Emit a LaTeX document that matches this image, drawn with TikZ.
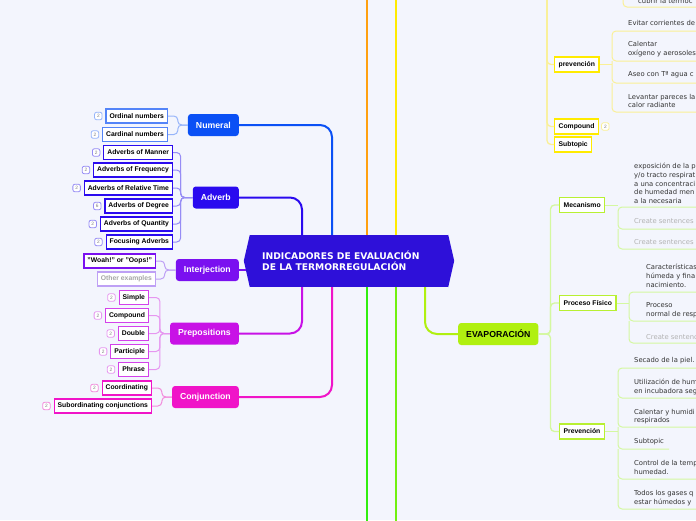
\documentclass[tikz,border=0pt]{standalone}
\usepackage{fontspec}
\setmainfont{Liberation Sans}
\newfontfamily\vfont{DejaVu Sans}
\usetikzlibrary{positioning}
\definecolor{bg}{RGB}{243,245,253}
\definecolor{cHub}{RGB}{46,16,217}
\definecolor{cNum}{RGB}{10,80,245}
\definecolor{cAdv}{RGB}{42,10,239}
\definecolor{cInt}{RGB}{122,16,240}
\definecolor{cPre}{RGB}{200,18,230}
\definecolor{cCon}{RGB}{240,20,200}
\definecolor{cOra}{RGB}{255,160,16}
\definecolor{cYel}{RGB}{255,235,0}
\definecolor{cGrA}{RGB}{48,238,16}
\definecolor{cGrB}{RGB}{112,240,16}
\definecolor{cEva}{RGB}{176,240,16}
\definecolor{bNum}{RGB}{150,180,250}
\definecolor{bAdv}{RGB}{150,140,245}
\definecolor{bInt}{RGB}{190,160,245}
\definecolor{bPre}{RGB}{230,150,240}
\definecolor{bCon}{RGB}{242,140,220}
\definecolor{lY}{RGB}{250,240,150}
\definecolor{lG}{RGB}{212,248,160}
\definecolor{sG}{RGB}{184,240,50}
\begin{document}
\begin{tikzpicture}[x=1pt, y=-1pt,
  main/.style={rounded corners=3pt, text=white, font=\bfseries\fontsize{8.7}{10}\selectfont, minimum height=22pt, inner xsep=8pt, inner ysep=0pt, anchor=east},
  leaf/.style={draw, fill=white, line width=1.1pt, font=\bfseries\fontsize{6.8}{7.5}\selectfont, minimum height=14pt, inner xsep=3.5pt, inner ysep=0pt, anchor=east},
  badge/.style={draw, fill=white, rounded corners=2pt, line width=0.8pt, font=\fontsize{4.8}{5}\selectfont, text=gray, minimum size=7.5pt, inner sep=0pt},
  sub/.style={draw, fill=white, line width=1.3pt, font=\bfseries\fontsize{6.8}{7.5}\selectfont, minimum height=15pt, inner xsep=4pt, inner ysep=0pt, anchor=west},
  note/.style={font=\vfont\fontsize{6.8}{8.7}\selectfont, align=left, anchor=west, inner sep=0pt, text=black!80},
  con/.style={line width=2pt, rounded corners=12pt},
  brk/.style={line width=1pt, rounded corners=4pt},
  grp/.style={line width=1pt, rounded corners=4pt}]
\useasboundingbox (0,0) rectangle (696,520);
\fill[bg] (0,0) rectangle (696,520);
\clip (0,0) rectangle (696,520);

% central topic
\node[fill=cHub, minimum width=198pt, minimum height=52pt, inner sep=0pt] (hub) at (349,261) {};
\fill[cHub] (hub.north west) -- ++(-6,26) -- (hub.south west) -- cycle;
\fill[cHub] (hub.north east) -- ++(6,26) -- (hub.south east) -- cycle;
\node[anchor=west, text=white, font=\vfont\bfseries\fontsize{9.2}{11}\selectfont, align=left, inner sep=0pt] (title) at (262,261) {INDICADORES DE EVALUACIÓN\\DE LA TERMORREGULACIÓN};
\coordinate (xA) at (302,0); \coordinate (xB) at (332,0); \coordinate (xC) at (367,0); \coordinate (xD) at (396,0); \coordinate (xE) at (425,0); \coordinate (hubL) at (246,0);
\coordinate (topC) at (367,-5); \coordinate (topD) at (396,-5); \coordinate (botC) at (367,525); \coordinate (botD) at (396,525);

% left branches
\node[main, fill=cNum] (num) at (239,125) {Numeral};
\node[main, fill=cAdv] (adv) at (239,197.5) {Adverb};
\node[main, fill=cInt] (int) at (239,270) {Interjection};
\node[main, fill=cPre] (pre) at (239,333.5) {Prepositions};
\node[main, fill=cCon] (conj) at (239,397) {Conjunction};
\draw[con, cNum] (hub.north -| xB) |- (num.east);
\draw[con, cAdv] (hub.north -| xA) |- (adv.east);
\draw[con, cInt] (int.east) -- (int.east -| hubL);
\draw[con, cPre] (hub.south -| xA) |- (pre.east);
\draw[con, cCon] (hub.south -| xB) |- (conj.east);

\node[leaf, draw=cNum!70] (ord) at (168,116) {Ordinal numbers};
\node[leaf, draw=cNum!70] (card) at (168,134.5) {Cardinal numbers};
\node[badge, draw=bNum, left=3pt of ord] (ordb) {2};
\node[badge, draw=bNum, left=3pt of card] (cardb) {2};
\draw[brk, bNum] (num.west) -- ++(-10,0) |- (ord.east); \draw[brk, bNum] (num.west) -- ++(-10,0) |- (card.east);

\node[leaf, draw=cAdv] (am) at (173,152.5) {Adverbs of Manner};
\node[leaf, draw=cAdv] (af) at (173,170) {Adverbs of Frequency};
\node[leaf, draw=cAdv] (art) at (173,188) {Adverbs of Relative Time};
\node[leaf, draw=cAdv] (ad) at (173,206) {Adverbs of Degree};
\node[leaf, draw=cAdv] (aq) at (173,224) {Adverbs of Quantity};
\node[leaf, draw=cAdv] (fa) at (173,242) {Focusing Adverbs};
\node[badge, draw=bAdv, left=3pt of am] (amb) {2};
\node[badge, draw=bAdv, left=3pt of af] (afb) {2};
\node[badge, draw=bAdv, left=3pt of art] (artb) {2};
\node[badge, draw=bAdv, left=3pt of ad] (adb) {6};
\node[badge, draw=bAdv, left=3pt of aq] (aqb) {2};
\node[badge, draw=bAdv, left=3pt of fa] (fab) {2};
\draw[brk, bAdv] (adv.west) -- ++(-12,0) |- (am.east); \draw[brk, bAdv] (adv.west) -- ++(-12,0) |- (af.east);
\draw[brk, bAdv] (adv.west) -- ++(-12,0) |- (art.east); \draw[brk, bAdv] (adv.west) -- ++(-12,0) |- (ad.east);
\draw[brk, bAdv] (adv.west) -- ++(-12,0) |- (aq.east); \draw[brk, bAdv] (adv.west) -- ++(-12,0) |- (fa.east);

\node[leaf, draw=cInt] (woah) at (156,261) {"Woah!" or "Oops!"};
\node[leaf, draw=bInt, text=gray!70] (other) at (156,279) {Other examples};
\draw[brk, bInt] (int.west) -- ++(-11,0) |- (woah.east); \draw[brk, bInt] (int.west) -- ++(-11,0) |- (other.east);

\node[leaf, draw=cPre!80] (simp) at (149,297.5) {Simple};
\node[leaf, draw=cPre!80] (comp) at (149,315.5) {Compound};
\node[leaf, draw=cPre!80] (doub) at (149,333.5) {Double};
\node[leaf, draw=cPre!80] (part) at (149,351.5) {Participle};
\node[leaf, draw=cPre!80] (phr) at (149,369.5) {Phrase};
\node[badge, draw=bPre, left=3pt of simp] (simpb) {2};
\node[badge, draw=bPre, left=3pt of comp] (compb) {2};
\node[badge, draw=bPre, left=3pt of doub] (doubb) {2};
\node[badge, draw=bPre, left=3pt of part] (partb) {2};
\node[badge, draw=bPre, left=3pt of phr] (phrb) {2};
\draw[brk, bPre] (pre.west) -- ++(-10,0) |- (simp.east); \draw[brk, bPre] (pre.west) -- ++(-10,0) |- (comp.east);
\draw[brk, bPre] (pre.west) -- ++(-10,0) |- (doub.east); \draw[brk, bPre] (pre.west) -- ++(-10,0) |- (part.east);
\draw[brk, bPre] (pre.west) -- ++(-10,0) |- (phr.east);

\node[leaf, draw=cCon] (coord) at (152,388) {Coordinating};
\node[leaf, draw=cCon] (subord) at (152,406) {Subordinating conjunctions};
\node[badge, draw=bCon, left=3pt of coord] (coordb) {2};
\node[badge, draw=bCon, left=3pt of subord] (subordb) {2};
\draw[brk, bCon] (conj.west) -- ++(-10,0) |- (coord.east); \draw[brk, bCon] (conj.west) -- ++(-10,0) |- (subord.east);

% right branches
\draw[line width=2pt, cOra] (hub.north -| xC) -- (topC);
\draw[line width=2pt, cYel] (hub.north -| xD) -- (topD);
\draw[line width=2pt, cGrA] (hub.south -| xC) -- (botC);
\draw[line width=2pt, cGrB] (hub.south -| xD) -- (botD);
\node[main, fill=cEva, text=black, anchor=west] (eva) at (458,334) {EVAPORACIÓN};
\draw[con, cEva] (hub.south -| xE) |- (eva.west);

% yellow branch (top right)
\coordinate (ytop) at (547,-5);
\node[sub, draw=cYel] (prevY) at (554,64.5) {prevención};
\node[sub, draw=cYel] (compY) at (554,126.5) {Compound};
\node[badge, draw=lY, right=2pt of compY] (compYb) {2};
\node[sub, draw=cYel] (subY) at (554,144.5) {Subtopic};
\draw[brk, lY, line width=1.3pt] (ytop) |- (prevY.west); \draw[brk, lY, line width=1.3pt] (ytop) |- (compY.west); \draw[brk, lY, line width=1.3pt] (ytop) |- (subY.west);
\node[note] (cubrir) at (638,1) {cubrir la termoc};
\draw[grp, lY] (623,-10) -- (623,7) -- (700,7);
\node[note] (evitar) at (628,23) {Evitar corrientes de};
\node[note] (calentar) at (628,49) {Calentar\\oxígeno y aerosoles};
\node[note] (aseo) at (628,75) {Aseo con Tª agua c};
\node[note] (levantar) at (628,101) {Levantar pareces la\\calor radiante};
\draw[grp, lY] (700,31) -- (612,31) -- (612,61) -- (700,61);
\draw[grp, lY] (612,61) -- (612,83) -- (700,83);
\draw[grp, lY] (612,83) -- (612,112) -- (700,112);
\draw[brk, lY] (prevY.east) -- (prevY.east -| 612,0);

% evaporacion
\node[sub, draw=sG] (meca) at (559,205) {Mecanismo};
\node[sub, draw=sG] (proc) at (559,303) {Proceso Físico};
\node[sub, draw=sG] (prevG) at (559,431.5) {Prevención};
\draw[brk, lG, line width=1.3pt] (eva.east) -- ++(12,0) |- (meca.west);
\draw[brk, lG, line width=1.3pt] (eva.east) -- ++(12,0) |- (proc.west);
\draw[brk, lG, line width=1.3pt] (eva.east) -- ++(12,0) |- (prevG.west);

\node[note] (expo) at (634,183.5) {exposición de la p\\y/o tracto respirat\\a una concentraci\\de humedad men\\a la necesaria};
\node[note, text=gray!60] (cs1) at (634,221) {Create sentences};
\node[note, text=gray!60] (cs2) at (634,242) {Create sentences};
\draw[grp, lG] (700,207) -- (618,207) -- (618,229) -- (700,229);
\draw[grp, lG] (618,229) -- (618,249) -- (700,249);
\draw[brk, lG] (meca.east) -- (meca.east -| 618,0);

\node[note] (carac) at (646,276) {Características\\húmeda y fina\\nacimiento.};
\node[note] (proceso) at (646,310.5) {Proceso\\normal de resp};
\node[note, text=gray!60] (cs3) at (646,337) {Create sentenc};
\draw[grp, lG] (700,292) -- (629,292) -- (629,321) -- (700,321);
\draw[grp, lG] (629,321) -- (629,343) -- (700,343);
\draw[brk, lG] (proc.east) -- (proc.east -| 629,0);

\node[note] (secado) at (634,361) {Secado de la piel.};
\node[note] (utiliz) at (634,387) {Utilización de hum\\en incubadora seg};
\node[note] (calhum) at (634,416.5) {Calentar y humidi\\respirados};
\node[note] (subG) at (634,442) {Subtopic};
\node[note] (control) at (634,467.5) {Control de la temp\\humedad.};
\node[note] (todos) at (634,498) {Todos los gases q\\estar húmedos y};
\draw[grp, lG] (700,368) -- (618,368) -- (618,398) -- (700,398);
\draw[grp, lG] (618,398) -- (618,427) -- (700,427);
\draw[grp, lG] (618,427) -- (618,449) -- (669,449);
\draw[grp, lG] (618,449) -- (618,479) -- (700,479);
\draw[grp, lG] (618,479) -- (618,509) -- (700,509);
\draw[brk, lG] (prevG.east) -- (prevG.east -| 618,0);
\end{tikzpicture}
\end{document}
